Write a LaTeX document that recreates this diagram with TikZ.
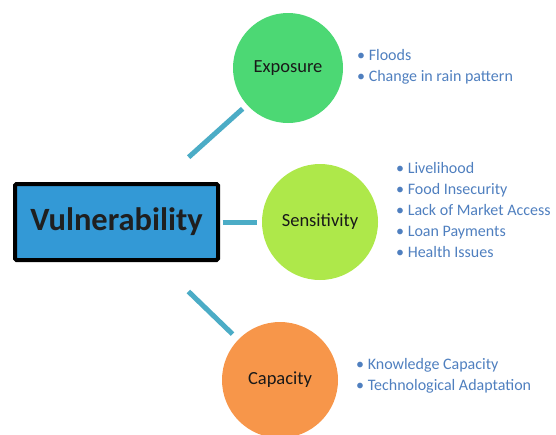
\documentclass[tikz,border=0pt]{standalone}
\usepackage{fontspec}
\setmainfont{Carlito}
\begin{document}
\begin{tikzpicture}[x=1pt,y=-1pt,
  hub/.style={draw=black, line width=4pt, fill=hubblue, minimum width=203pt, minimum height=76pt,
    rounded corners=1.5pt, inner sep=0pt, font=\fontsize{32.5}{38}\selectfont\bfseries, text=black!88},
  factor/.style={circle, minimum size=116pt, inner sep=0pt, font=\fontsize{18.5}{22}\selectfont, text=black!90},
  items/.style={anchor=west, align=left, inner sep=0pt, text=itemblue, font=\fontsize{16}{21.2}\selectfont},
  link/.style={draw=linkblue, line width=5pt}
]
\definecolor{hubblue}{HTML}{3399D6}
\definecolor{expgreen}{HTML}{4CD874}
\definecolor{senslime}{HTML}{AEE84A}
\definecolor{caporange}{HTML}{F7964A}
\definecolor{itemblue}{HTML}{4F7FBF}
\definecolor{linkblue}{HTML}{4BACC6}

\useasboundingbox (0,0) rectangle (556,434);

\node[hub] (vul) at (116.5,222) {Vulnerability};

\node[factor, fill=expgreen, minimum size=110pt] (exp) at (288,68) {Exposure};
\node[factor, fill=senslime] (sens) at (320,222) {Sensitivity};
\node[factor, fill=caporange] (cap) at (280,380) {Capacity};

\draw[link, shorten <=97pt, shorten >=61pt] (vul.center) -- (exp.center);
\draw[link, shorten <=106pt, shorten >=63pt] (vul.center) -- (sens.center);
\draw[link, shorten <=100pt, shorten >=66pt] (vul.center) -- (cap.center);

\node[items] (expitems) at (357,67) {• Floods\\• Change in rain pattern};
\node[items] (sensitems) at (396,210) {• Livelihood\\• Food Insecurity\\• Lack of Market Access\\• Loan Payments\\• Health Issues};
\node[items] (capitems) at (356,376) {• Knowledge Capacity\\• Technological Adaptation};
\end{tikzpicture}
\end{document}
